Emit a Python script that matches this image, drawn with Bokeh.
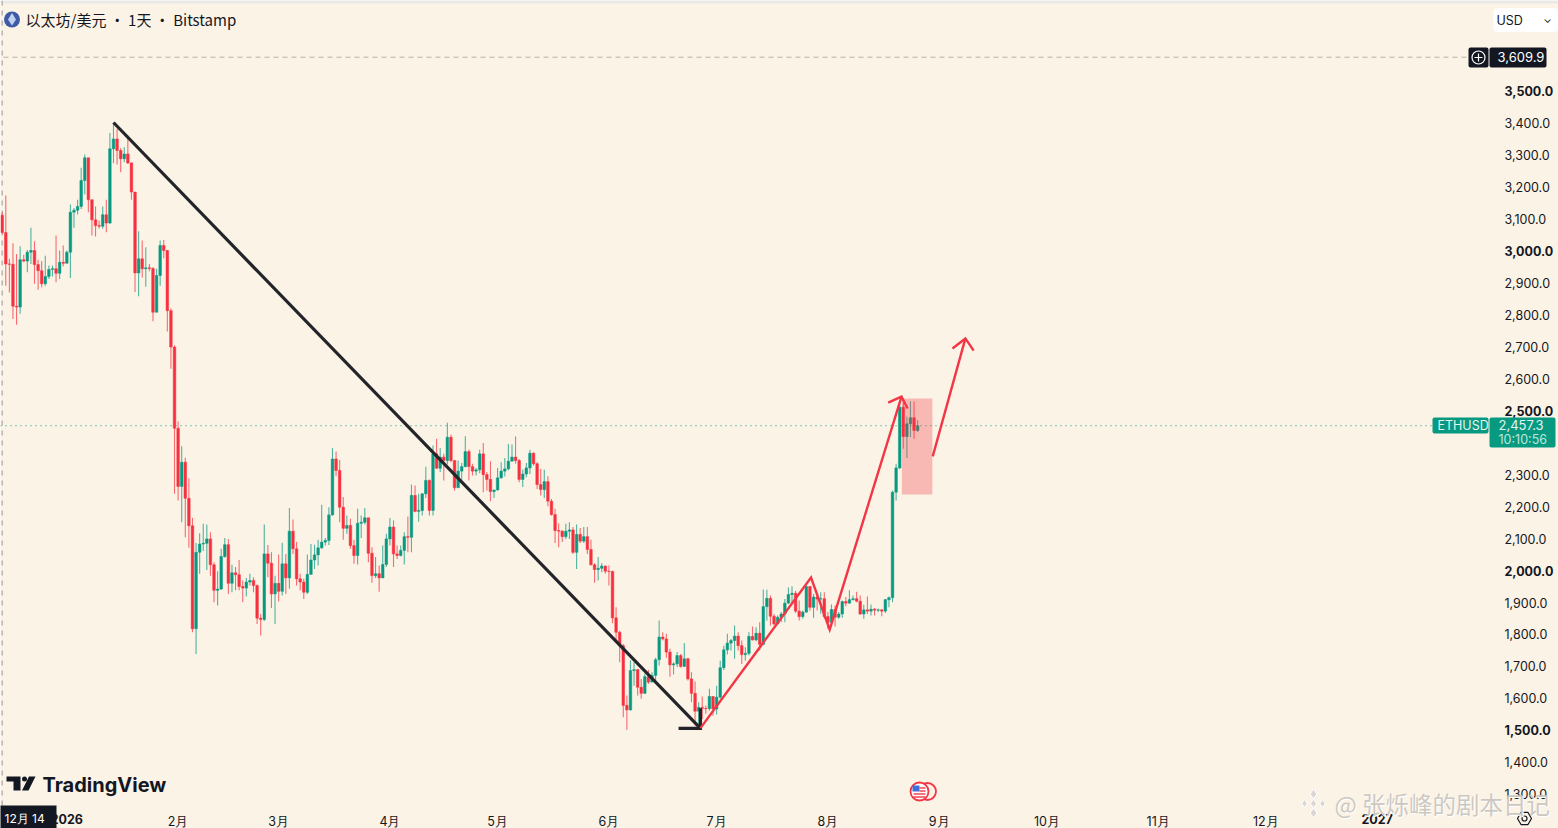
from bokeh.plotting import figure
from bokeh.models import Range1d, LinearAxis, FixedTicker, ColumnDataSource
from bokeh.core.properties import value
from bokeh.embed import file_html
from bokeh.resources import INLINE

first_open = 3111
closes = [
 3057,2959,2958,2827,2824,2972,2968,2996,3001,2957,
 2938,2897,2920,2942,2944,2930,2964,2961,2996,3121,
 3127,3139,3220,3291,3160,3097,3079,3077,3113,3087,
 3319,3350,3314,3288,3303,3275,3184,2931,2975,2944,
 2947,2945,2808,2923,3017,3001,2813,2699,2445,2263,
 2339,2226,2140,1818,2057,2083,2085,2099,2018,1938,
 1942,2044,2081,1960,1993,1987,1950,1945,1964,1969,
 1953,1851,1847,2052,2023,1927,1960,1935,2021,1977,
 2123,2068,1974,1964,1932,1988,2033,2049,2071,2089,
 2094,2174,2349,2313,2198,2132,2141,2078,2047,2148,
 2151,2165,2054,1984,1990,1977,2019,2099,2136,2052,
 2047,2063,2106,2104,2235,2185,2188,2240,2282,2188,
 2365,2320,2355,2344,2417,2344,2259,2311,2325,2372,
 2325,2311,2315,2365,2300,2285,2247,2252,2290,2311,
 2318,2342,2355,2344,2285,2302,2321,2367,2334,2269,
 2253,2278,2217,2175,2125,2123,2106,2123,2127,2057,
 2113,2092,2106,2066,2018,2003,2007,2014,1998,1997,
 1852,1807,1765,1578,1564,1687,1690,1635,1616,1668,
 1651,1672,1721,1792,1786,1745,1705,1708,1734,1700,
 1724,1661,1616,1560,1572,1569,1568,1606,1567,1604,
 1696,1752,1773,1781,1795,1765,1737,1741,1794,1783,
 1804,1769,1887,1913,1857,1833,1854,1864,1898,1925,
 1929,1873,1856,1870,1950,1885,1917,1911,1912,1856,
 1838,1878,1854,1864,1903,1898,1909,1912,1904,1864,
 1877,1873,1879,1876,1877,1873,1909,1915,2245,2321,
 2511,2419,2459,2478,2438,2453]
highs = [
 3120,3173,2975,3024,2990,3014,2988,3003,3072,3030,
 2972,2968,2985,2954,2954,3048,3001,3017,3001,3145,
 3134,3160,3260,3301,3291,3160,3139,3095,3139,3160,
 3369,3399,3382,3322,3324,3361,3277,3184,3061,3032,
 3011,2959,2949,2944,3032,3034,3003,2820,2705,2467,
 2389,2353,2289,2165,2086,2117,2146,2144,2120,2026,
 1998,2068,2102,2099,2018,2011,2033,1969,1977,1990,
 1979,1956,1864,2144,2080,2057,1984,2050,2087,2052,
 2196,2160,2089,1990,1974,2050,2083,2081,2096,2206,
 2102,2198,2383,2372,2346,2230,2172,2162,2096,2193,
 2172,2196,2165,2073,2042,2016,2078,2115,2164,2157,
 2078,2078,2120,2169,2269,2266,2240,2242,2325,2285,
 2391,2412,2383,2365,2462,2425,2346,2344,2336,2420,
 2379,2334,2321,2378,2399,2308,2342,2253,2321,2339,
 2352,2396,2394,2419,2349,2316,2336,2378,2370,2339,
 2318,2315,2295,2224,2193,2148,2127,2146,2151,2136,
 2144,2133,2136,2136,2096,2023,2042,2023,2016,2016,
 2000,1885,1812,1770,1609,1719,1713,1692,1661,1677,
 1689,1682,1727,1844,1807,1802,1755,1713,1745,1739,
 1773,1727,1682,1653,1588,1606,1578,1630,1606,1640,
 1718,1765,1802,1786,1828,1807,1781,1760,1807,1825,
 1823,1838,1941,1940,1922,1864,1859,1870,1911,1948,
 1951,1937,1906,1875,1953,1950,1927,1927,1932,1932,
 1870,1894,1891,1870,1906,1917,1938,1922,1934,1922,
 1893,1919,1894,1883,1881,1880,1911,1919,2250,2334,
 2525,2525,2482,2529,2529,2471]
lows = [
 3054,2891,2870,2787,2769,2803,2964,2933,2959,2897,
 2878,2886,2891,2912,2920,2902,2912,2952,2961,2915,
 3072,3114,3131,3176,3121,3048,3045,3070,3069,3058,
 3084,3274,3270,3246,3277,3272,3160,2871,2858,2917,
 2888,2936,2780,2808,2891,2977,2748,2631,2240,2219,
 2151,2104,2071,1807,1739,1990,2061,2002,1984,1901,
 1891,1940,2040,1927,1932,1938,1938,1901,1919,1953,
 1932,1833,1797,1842,1979,1883,1833,1903,1922,1927,
 1943,2052,1953,1938,1911,1927,1988,2005,2016,2068,
 2078,2080,2172,2295,2151,2096,2115,2068,2021,2019,
 2102,2144,2026,1962,1977,1934,1977,2011,2078,2011,
 2036,2044,2019,2057,2057,2182,2153,2172,2227,2172,
 2172,2318,2308,2282,2332,2339,2250,2259,2284,2323,
 2282,2297,2297,2304,2245,2250,2217,2227,2250,2287,
 2294,2313,2342,2334,2276,2261,2292,2302,2328,2255,
 2235,2227,2201,2172,2086,2073,2089,2099,2099,2052,
 2005,2086,2086,2052,2016,1962,1969,1995,1990,1953,
 1835,1776,1713,1541,1502,1562,1640,1609,1599,1614,
 1645,1651,1651,1703,1781,1727,1668,1675,1698,1696,
 1700,1656,1588,1515,1505,1536,1552,1562,1546,1550,
 1599,1689,1737,1750,1724,1750,1708,1718,1734,1781,
 1779,1750,1768,1844,1828,1828,1833,1838,1838,1896,
 1896,1867,1844,1849,1868,1875,1852,1875,1865,1849,
 1817,1835,1825,1849,1852,1888,1896,1906,1901,1862,
 1849,1864,1859,1859,1870,1857,1868,1885,1901,2219,
 2318,2381,2352,2417,2412,2433]

month_days = [18,49,77,108,138,169,199,230,261,291,322,352,383]
month_labels = ["2026","2月","3月","4月","5月","6月","7月","8月","9月","10月","11月","12月","2027"]
bold_months = ["2026","2027"]
price_ticks = [1300,1400,1500,1600,1700,1800,1900,2000,2100,2200,2300,2500,2600,2700,2800,2900,3000,3100,3200,3300,3400,3500]
bold_prices = [1500,2000,2500,3000,3500]

trend_x = [31,194.5]
trend_y = [3401.5,1506]
trend_head_x = [188.4,194.5,194.5]
trend_head_y = [1506,1506,1569]
zig_x = [194.5,225.3,230.5,250.5]
zig_y = [1507,1978,1815,2544]
zig_head_x = [246.8,250.5,252.2]
zig_head_y = [2525,2544,2507]
next_x = [259.2,268.3]
next_y = [2357,2726]
next_head_x = [264.7,268.3,270.6]
next_head_y = [2694.5,2726,2688]
zone = dict(left=250.6,right=259.1,top=2538,bottom=2238)

BG="#FBF3E6"; UP="#089981"; DN="#F7303F"; INK="#131722"

def X(px): return (px-1.7)/3.59
def Y(py): return 3500-(py-90.5)*3.128

p = figure(width=1558,height=828,output_backend="svg",toolbar_location=None,
           x_range=Range1d(X(0),X(1558)),y_range=Range1d(Y(828),Y(0)),
           x_axis_type=None,y_axis_type=None,min_border=0,
           background_fill_color=BG,border_fill_color=BG,outline_line_color=None)
p.grid.visible=False

# axes, placed inside the full-page frame
def price_axis(ticks,bold):
    ax=LinearAxis(fixed_location=X(1496),ticker=FixedTicker(ticks=ticks),
                  major_label_overrides={t:f"{t:,.1f}" for t in ticks},
                  major_tick_line_color=None,minor_tick_line_color=None,axis_line_color=None,
                  major_label_standoff=2,major_label_text_font="Inter",
                  major_label_text_font_size="12.5px",major_label_text_color=INK,
                  major_label_text_font_style="bold" if bold else "normal")
    p.add_layout(ax,"right")
price_axis([t for t in price_ticks if t not in bold_prices],False)
price_axis(bold_prices,True)
def time_axis(labels,bold):
    d={n:l for n,l in zip(month_days,month_labels) if l in labels}
    ax=LinearAxis(fixed_location=Y(806),ticker=FixedTicker(ticks=list(d)),major_label_overrides=d,
                  major_tick_line_color=None,minor_tick_line_color=None,axis_line_color=None,
                  major_label_standoff=1,major_label_text_font="Inter",
                  major_label_text_font_size="12.5px",major_label_text_color=INK,
                  major_label_text_font_style="bold" if bold else "normal")
    p.add_layout(ax,"below")
time_axis([l for l in month_labels if l not in bold_months],False)
time_axis(bold_months,True)

# page furniture under the candles
p.quad(left=X(0),right=X(1558),top=Y(0),bottom=Y(3),color="#E9E9E9",line_color=None)
p.line([X(1.7),X(1.7)],[Y(0),Y(828)],line_color="#BDB9B2",line_width=1.6,line_dash="5 5")
p.line([X(3),X(1466)],[Y(56.7),Y(56.7)],line_color="#B5B1AA",line_width=1,line_dash="5 4")
p.line([X(0),X(1432)],[Y(425.2),Y(425.2)],line_color=UP,line_width=1,line_dash="1 4")

# candles
opens=[first_open]+closes[:-1]
days=list(range(len(closes)))
cols=[UP if c>=o else DN for o,c in zip(opens,closes)]
src=ColumnDataSource(dict(d=days,o=opens,c=closes,h=highs,l=lows,col=cols,
    top=[max(o,c) for o,c in zip(opens,closes)],bot=[min(o,c) for o,c in zip(opens,closes)]))
p.segment("d","h","d","l",source=src,line_color="col",line_width=1.1,line_alpha=0.7)
p.vbar(x="d",top="top",bottom="bot",width=0.72,source=src,fill_color="col",line_color="col",line_width=0.5)

# drawings
p.quad(left=zone["left"],right=zone["right"],top=zone["top"],bottom=zone["bottom"],fill_color="#F23645",fill_alpha=0.3,line_color=None)
for xs,ys,c,w in [(trend_x,trend_y,"#22242A",3.2),(trend_head_x,trend_head_y,"#22242A",3.2),
                  (zig_x,zig_y,"#F23645",2.4),(zig_head_x,zig_head_y,"#F23645",2.4),
                  (next_x,next_y,"#F23645",2.4),(next_head_x,next_head_y,"#F23645",2.4)]:
    p.line(xs,ys,line_color=c,line_width=w,line_join="miter")

def txt(px,py,s,size,color=INK,font="Inter",style="normal",align="left",alpha=1.0):
    p.text([X(px)],[Y(py)],text=[s],text_font=value(font),text_font_size=size,text_color=color,
           text_font_style=style,text_align=align,text_baseline="middle",text_alpha=alpha,level="overlay")
def box(l,r,t,b,c,rad=0):
    p.quad(left=X(l),right=X(r),top=Y(t),bottom=Y(b),fill_color=c,line_color=None,border_radius=rad,level="overlay")

# title
p.scatter([X(11.5)],[Y(19)],size=16,marker="circle",fill_color="#3E5BA6",line_color=None,level="overlay")
p.patch([X(11.5),X(15.5),X(11.5),X(7.5)],[Y(12.5),Y(19),Y(25),Y(19)],fill_color="#BFD2F2",line_color=None,level="overlay")
txt(25,19,"以太坊/美元 · 1天 · Bitstamp",'15px',font="Noto Sans CJK SC")

# dropdown
box(1493,1558,7.5,31.5,"#FFFFFF",4)
txt(1496,19.5,"USD",'12.5px')
txt(1547,18,"⌄",'11px',align="center")

# crosshair tag
box(1468,1488,47,67,INK,2)
p.scatter([X(1478)],[Y(57)],size=13,marker="circle",fill_color=None,line_color="#FFFFFF",line_width=1.2,level="overlay")
p.scatter([X(1478)],[Y(57)],size=8,marker="cross",line_color="#FFFFFF",line_width=1.2,level="overlay")
box(1489,1546,47,67,INK,2)
txt(1497,56.5,"3,609.9",'13px',color="#FFFFFF")

# last-price tag
box(1432,1488,417,433,UP,2)
txt(1437,425,"ETHUSD",'12.5px',color="#E2F4F0")
box(1489,1555,417,447,UP,2)
txt(1498,424.5,"2,457.3",'13px',color="#E2F4F0")
txt(1498,438.5,"10:10:56",'12.5px',color="#BFE6DE")

# logo
p.patch([X(6),X(20),X(20),X(13),X(13),X(6)],[Y(776),Y(776),Y(790),Y(790),Y(781),Y(781)],fill_color=INK,line_color=None,level="overlay")
p.patch([X(28.5),X(35),X(28),X(21.5)],[Y(776),Y(776),Y(790),Y(790)],fill_color=INK,line_color=None,level="overlay")
p.scatter([X(24)],[Y(778.5)],size=5,marker="circle",fill_color=INK,line_color=None,level="overlay")
txt(42,784,"TradingView",'20px',style="bold",font="Inter")

# time tag
box(0,56,805,828,INK,0)
txt(4,818,"12月 14",'12px',color="#FFFFFF")

# event icon
p.scatter([X(927)],[Y(791)],size=17,marker="circle",fill_color=BG,line_color="#F23645",line_width=1.8,level="overlay")
p.scatter([X(919)],[Y(791)],size=18,marker="circle",fill_color="#FFFFFF",line_color="#F23645",line_width=1.8,level="overlay")
box(912,919,785,791,"#3C6FD8")
for py in (787.5,790.5,793.5,796.5):
    p.line([X(919 if py<791 else 913),X(925)],[Y(py),Y(py)],line_color="#F23645",line_width=1.4,level="overlay")

# settings icon
p.scatter([X(1524)],[Y(818)],size=14,marker="hex",fill_color=None,line_color=INK,line_width=1.2,level="overlay")
p.scatter([X(1524)],[Y(818)],size=5,marker="circle",fill_color=None,line_color=INK,line_width=1.2,level="overlay")

# watermark
for dx,c,a in [(1,"#FFFFFF",1.0),(0,"#C9C5BE",0.95)]:
    txt(1334+dx,803+dx,"@ 张烁峰的剧本日记",'23.5px',color=c,font="Noto Sans CJK SC",alpha=a)
p.scatter([X(1313),X(1313),X(1313),X(1304),X(1322)],[Y(803),Y(793.5),Y(812.5),Y(803),Y(803)],
          size=[9,10,10,8,8],marker="diamond",fill_color="#DAD6D0",line_color="#FFFFFF",level="overlay")

html=file_html(p,INLINE)
open("out.html","w").write(html)
